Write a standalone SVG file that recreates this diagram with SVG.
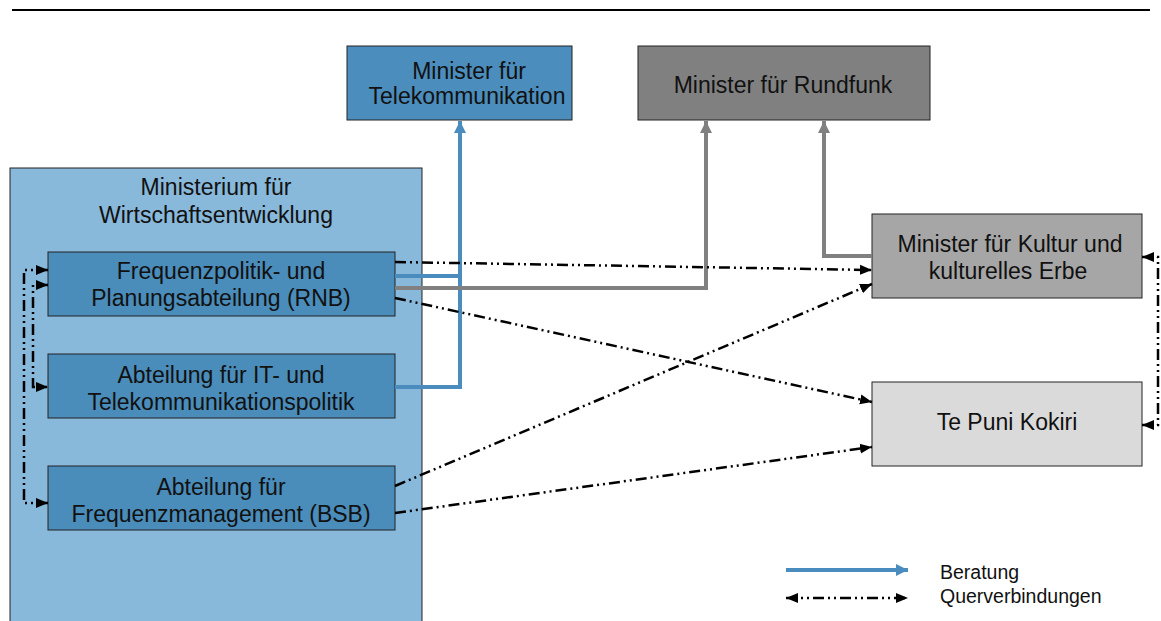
<svg xmlns="http://www.w3.org/2000/svg" width="1161" height="621" viewBox="0 0 1161 621">
<style>
text{font-family:"Liberation Sans",Arial,sans-serif;font-size:23px;fill:#111;text-anchor:middle}
.box{stroke:#222;stroke-width:1}
.blue{fill:none;stroke:#4a8cbe;stroke-width:4}
.gray{fill:none;stroke:#808080;stroke-width:4}
.dd{fill:none;stroke:#000;stroke-width:2.5;stroke-dasharray:11 4 2 4 2 4}
.leg{text-anchor:start;font-size:19.5px}
</style>
<defs>
<marker id="ab" markerUnits="userSpaceOnUse" markerWidth="14" markerHeight="12" refX="12" refY="6" orient="auto"><path d="M0,0 L12,6 L0,12 z" fill="#4a8cbe"/></marker>
<marker id="ag" markerUnits="userSpaceOnUse" markerWidth="14" markerHeight="12" refX="12" refY="6" orient="auto"><path d="M0,0 L12,6 L0,12 z" fill="#808080"/></marker>
<marker id="ak" markerUnits="userSpaceOnUse" markerWidth="14" markerHeight="12" refX="12" refY="6" orient="auto-start-reverse"><path d="M0,1 L12,6 L0,11 z" fill="#000"/></marker>
</defs>
<line x1="12" y1="10" x2="1150" y2="10" stroke="#000" stroke-width="2"/>
<g id="ministerium"><rect class="box" x="10" y="168" width="412" height="470" fill="#88b8da"/>
<text x="216" y="195">Ministerium für</text><text x="216" y="223">Wirtschaftsentwicklung</text></g>
<g id="rnb"><rect class="box" x="48" y="252" width="347" height="64" fill="#4a8cba"/>
<text x="221" y="279">Frequenzpolitik- und</text><text x="221" y="306">Planungsabteilung (RNB)</text></g>
<g id="it"><rect class="box" x="48" y="354" width="347" height="64" fill="#4a8cba"/>
<text x="221" y="383">Abteilung für IT- und</text><text x="221" y="410">Telekommunikationspolitik</text></g>
<g id="bsb"><rect class="box" x="48" y="466" width="347" height="64" fill="#4a8cba"/>
<text x="221" y="495">Abteilung für</text><text x="221" y="522">Frequenzmanagement (BSB)</text></g>
<g id="telekom"><rect class="box" x="347" y="46" width="225" height="74" fill="#4b8dbc"/>
<text x="469" y="79">Minister für</text><text x="467" y="104">Telekommunikation</text></g>
<g id="rundfunk"><rect class="box" x="638" y="46" width="292" height="74" fill="#808080"/>
<text x="783" y="93">Minister für Rundfunk</text></g>
<g id="kultur"><rect class="box" x="872" y="214" width="270" height="84" fill="#a6a6a6"/>
<text x="1010" y="252">Minister für Kultur und</text><text x="1008" y="279">kulturelles Erbe</text></g>
<g id="tepuni"><rect class="box" x="872" y="382" width="270" height="84" fill="#dadada"/>
<text x="1007" y="430">Te Puni Kokiri</text></g>
<g id="connectors">
<path class="blue" d="M395,276 H460"/>
<path class="blue" d="M395,387 H460 V121" marker-end="url(#ab)"/>
<path class="gray" d="M395,288 H706 V121" marker-end="url(#ag)"/>
<path class="gray" d="M872,256 H824 V121" marker-end="url(#ag)"/>
<path class="dd" d="M395,262 L872,270" marker-end="url(#ak)"/>
<path class="dd" d="M395,298 L872,402" marker-end="url(#ak)"/>
<path class="dd" d="M395,486 L872,284" marker-end="url(#ak)"/>
<path class="dd" d="M395,513 L872,447" marker-end="url(#ak)"/>
<path class="dd" d="M48,270 H24 V503 H48" marker-start="url(#ak)" marker-end="url(#ak)"/>
<path class="dd" d="M48,285 H33 V387 H48" marker-start="url(#ak)" marker-end="url(#ak)"/>
<path class="dd" d="M1142,257 H1158 V425 H1142" marker-start="url(#ak)" marker-end="url(#ak)"/>
</g>
<g id="legend">
<path class="blue" d="M786,570 H908" marker-end="url(#ab)"/>
<path class="dd" d="M786,598 H908" marker-start="url(#ak)" marker-end="url(#ak)"/>
<text class="leg" x="940" y="579">Beratung</text>
<text class="leg" x="940" y="603">Querverbindungen</text>
</g>
</svg>
